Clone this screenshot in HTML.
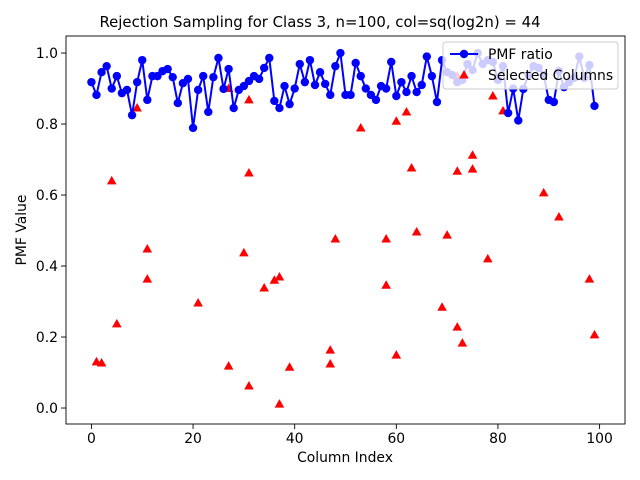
<!DOCTYPE html>
<html><head><meta charset="utf-8"><style>body{margin:0;background:#fff}svg{display:block}text{font-family:"DejaVu Sans","Liberation Sans",sans-serif;fill:#000}</style></head>
<body>
<svg id="chart" width="640" height="480" xmlns="http://www.w3.org/2000/svg">
<rect width="640" height="480" fill="#fff"/>
<text x="320" y="27" text-anchor="middle" font-size="14.9">Rejection Sampling for Class 3, n=100, col=sq(log2n) = 44</text>
<g id="plot"></g>
<text x="345" y="462" text-anchor="middle" font-size="13.9">Column Index</text>
<text x="26" y="230" text-anchor="middle" font-size="13.9" transform="rotate(-90 26 230)">PMF Value</text>
</svg>
<script>
const pmf=[0.918,0.882,0.946,0.963,0.90,0.935,0.887,0.896,0.825,0.918,0.98,0.868,0.935,0.935,0.949,0.955,0.932,0.859,0.915,0.927,0.789,0.896,0.935,0.834,0.932,0.986,0.899,0.955,0.845,0.896,0.907,0.921,0.935,0.927,0.958,0.986,0.865,0.845,0.907,0.856,0.90,0.969,0.918,0.98,0.91,0.946,0.913,0.882,0.963,1.0,0.882,0.882,0.972,0.935,0.90,0.882,0.868,0.907,0.90,0.975,0.879,0.918,0.89,0.935,0.89,0.91,0.99,0.935,0.862,0.98,0.946,0.938,0.918,0.924,0.969,0.952,1.0,0.969,0.98,0.975,0.924,0.963,0.831,0.90,0.81,0.899,0.938,0.963,0.958,0.938,0.868,0.862,0.949,0.904,0.918,0.93,0.99,0.93,0.966,0.851];
const selX=[1,2,4,5,9,11,11,21,27,27,30,31,31,31,34,36,37,37,39,47,47,48,53,58,58,60,60,62,63,64,69,70,72,72,72,73,75,75,78,79,81,89,92,98,99];
const selY=[0.13,0.127,0.64,0.237,0.845,0.448,0.363,0.296,0.118,0.90,0.437,0.662,0.868,0.062,0.338,0.36,0.369,0.011,0.115,0.163,0.124,0.476,0.789,0.476,0.346,0.808,0.149,0.834,0.676,0.496,0.284,0.487,0.667,0.228,0.935,0.183,0.712,0.673,0.42,0.879,0.837,0.606,0.538,0.363,0.206];
const xTicks=[0,20,40,60,80,100];
const yTicks=[0.0,0.2,0.4,0.6,0.8,1.0];
const NS='http://www.w3.org/2000/svg';
const L=66,R=625,T=36,B=424,xmin=-5,xmax=105,ymin=-0.045,ymax=1.048;
const sx=v=>L+(v-xmin)/(xmax-xmin)*(R-L);
const sy=v=>B-(v-ymin)/(ymax-ymin)*(B-T);
const g=document.getElementById('plot');
function mk(t,a,p){const e=document.createElementNS(NS,t);for(const k in a)e.setAttribute(k,a[k]);(p||g).appendChild(e);return e;}
selX.forEach((x,i)=>{const cx=sx(x),cy=sy(selY[i]);
 const e=mk('polygon',{points:`${cx},${cy-5} ${cx-4.8},${cy+3.5} ${cx+4.8},${cy+3.5}`,fill:'#ff0000'});
 
 });
const ln=mk('polyline',{points:pmf.map((v,i)=>sx(i)+','+sy(v)).join(' '),fill:'none',stroke:'#0000ff','stroke-width':2});


pmf.forEach((v,i)=>{const c=mk('circle',{cx:sx(i),cy:sy(v),r:4.2,fill:'#0000ff'});
 
 });
const fr=mk('rect',{x:L,y:T,width:R-L,height:B-T,fill:'none',stroke:'#000','stroke-width':0.9});


xTicks.forEach(t=>{const x=sx(t);
 const l=mk('line',{x1:x,x2:x,y1:B,y2:B+5,stroke:'#000','stroke-width':0.9});
 
 
 const tx=mk('text',{x:x,y:B+19,'text-anchor':'middle','font-size':13.9});tx.textContent=t;
 
 });
yTicks.forEach(t=>{const y=sy(t);
 const l=mk('line',{x1:L-5,x2:L,y1:y,y2:y,stroke:'#000','stroke-width':0.9});
 
 
 const tx=mk('text',{x:L-8,y:y+5,'text-anchor':'end','font-size':13.9});tx.textContent=t.toFixed(1);
 
 });
const lg=mk('g',{});


mk('rect',{x:443,y:42,width:175,height:47,rx:3,fill:'#fff','fill-opacity':0.8,stroke:'#ccc','stroke-width':1},lg);
mk('line',{x1:450,x2:478,y1:54,y2:54,stroke:'#0000ff','stroke-width':2},lg);
mk('circle',{cx:464,cy:54,r:4.2,fill:'#0000ff'},lg);
const t1=mk('text',{x:488,y:59,'font-size':13.9},lg);t1.textContent='PMF ratio';


mk('polygon',{points:'464,70 459.2,78.5 468.8,78.5',fill:'#ff0000'},lg);
const t2=mk('text',{x:488,y:80,'font-size':13.9},lg);t2.textContent='Selected Columns';


</script>
</body></html>
